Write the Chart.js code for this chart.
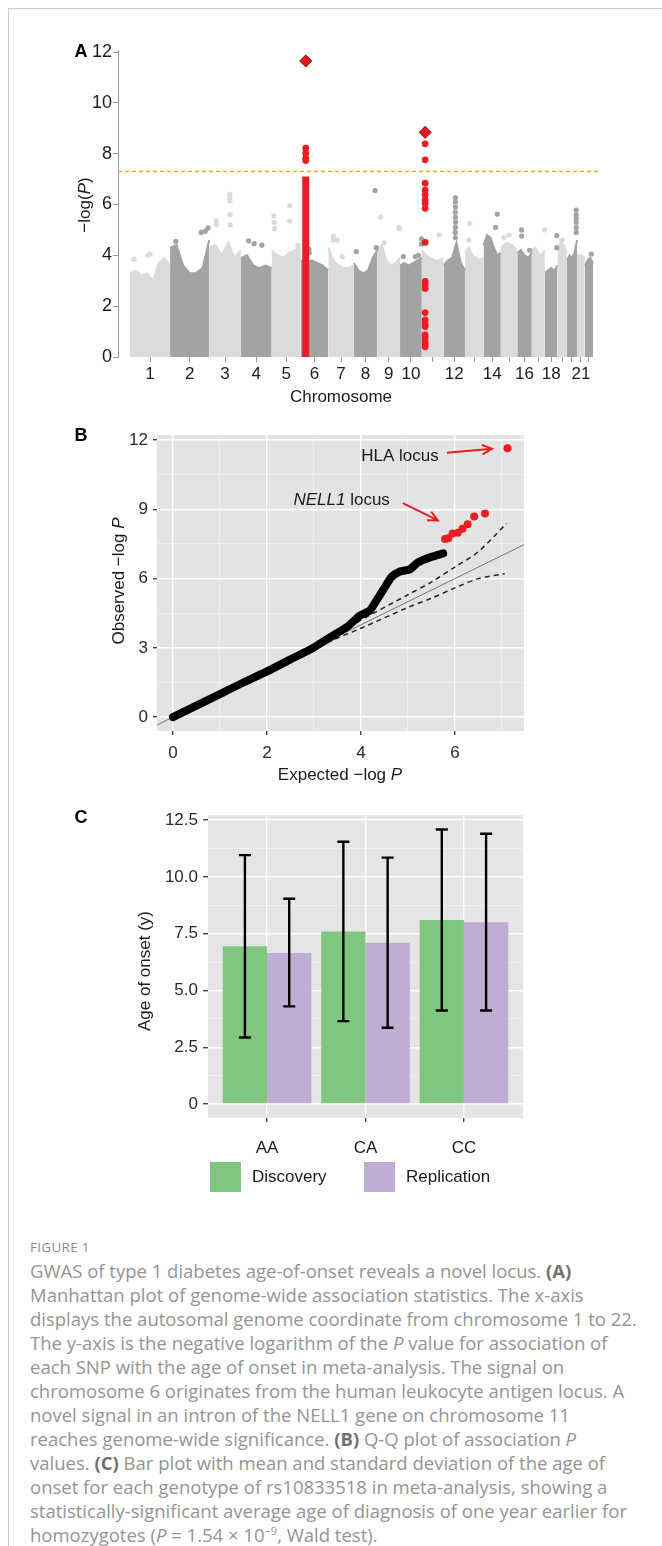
<!DOCTYPE html>
<html>
<head>
<meta charset="utf-8">
<script src="https://cdn.jsdelivr.net/npm/chart.js@4.4.0/dist/chart.umd.min.js"></script>
<style>
body{margin:0;background:#fff;width:662px;height:1546px;position:relative;overflow:hidden;font-family:'Liberation Sans',Arial,sans-serif}
#frame{position:absolute;left:8px;top:8px;width:700px;height:1600px;border-left:1px solid #cdcdcd;border-top:1px solid #cdcdcd}
canvas{position:absolute;left:0}
#cap{position:absolute;left:30px;top:1236px;font-family:'Open Sans',sans-serif;color:#949494}
#cap .fig{font-size:13.5px;letter-spacing:0.3px;height:23px;line-height:23px;color:#8a8a8a}
#cap .txt div{white-space:nowrap;height:24px;line-height:24px;font-size:16.6px}
#cap b{color:#707070}
#cap sup{font-size:11px;line-height:0}
</style>
</head>
<body>
<div id="frame"></div>
<canvas id="cA" width="662" height="420" style="top:0"></canvas>
<canvas id="cB" width="662" height="380" style="top:420px"></canvas>
<canvas id="cC" width="662" height="420" style="top:800px"></canvas>
<div id="cap">
  <div class="fig">FIGURE 1</div>
  <div class="txt">
    <div><span>GWAS of type 1 diabetes age-of-onset reveals a novel locus. <b>(A)</b></span></div>
    <div><span>Manhattan plot of genome-wide association statistics. The x-axis</span></div>
    <div><span id="fitLine">displays the autosomal genome coordinate from chromosome 1 to 22.</span></div>
    <div><span>The y-axis is the negative logarithm of the <i>P</i> value for association of</span></div>
    <div><span>each SNP with the age of onset in meta-analysis. The signal on</span></div>
    <div><span>chromosome 6 originates from the human leukocyte antigen locus. A</span></div>
    <div><span>novel signal in an intron of the NELL1 gene on chromosome 11</span></div>
    <div><span>reaches genome-wide significance. <b>(B)</b> Q-Q plot of association <i>P</i></span></div>
    <div><span>values. <b>(C)</b> Bar plot with mean and standard deviation of the age of</span></div>
    <div><span>onset for each genotype of rs10833518 in meta-analysis, showing a</span></div>
    <div><span>statistically-significant average age of diagnosis of one year earlier for</span></div>
    <div><span>homozygotes (<i>P</i> = 1.54 × 10<sup>−9</sup>, Wald test).</span></div>
  </div>
</div>
<script>
// Panel A - Manhattan plot
const chromLengths = [249.3, 243.2, 198.0, 191.2, 180.9, 171.1, 159.1, 146.4, 141.2, 135.5, 135.0,
  133.9, 115.2, 107.3, 102.5, 90.4, 81.2, 78.1, 59.1, 63.0, 48.1, 51.3];
const chromShown = [1, 2, 3, 4, 5, 6, 7, 8, 9, 10, 12, 14, 16, 18, 21];
// upper edge of the dense SNP cloud along each chromosome
const bulkTop = [
  [3.3, 3.4, 3.2, 3.3, 3.0, 3.7, 3.9, 3.6],
  [4.3, 4.4, 3.6, 3.3, 3.3, 3.5, 4.6],
  [4.3, 4.4, 4.0, 4.5, 3.9, 4.2],
  [3.9, 4.0, 3.6, 3.5, 3.6, 3.5],
  [4.2, 4.0, 3.9, 4.1, 4.2, 4.3],
  [3.8, 3.7, 3.8, 3.7, 3.6, 3.4],
  [4.3, 3.8, 3.6, 3.5, 3.5, 3.6],
  [3.7, 3.4, 3.3, 3.4, 3.9, 4.2],
  [4.2, 4.4, 3.8, 3.6, 3.7, 3.9],
  [3.6, 3.7, 3.6, 3.7, 3.8, 3.9],
  [4.2, 4.0, 3.9, 3.8, 3.8, 3.9],
  [3.6, 3.8, 3.9, 4.5, 3.7, 3.4],
  [4.1, 4.3, 4.0, 3.9, 3.8, 3.9],
  [4.4, 4.8, 4.7, 4.3, 4.0, 4.1],
  [4.3, 4.5, 4.4, 4.2],
  [4.1, 4.2, 4.0, 3.9, 4.1],
  [4.2, 4.3, 4.1, 4.0, 4.2],
  [3.3, 3.4, 3.5, 3.4, 3.6],
  [4.2, 4.5, 4.4, 4.1],
  [3.8, 4.0, 3.9, 4.1, 4.6],
  [4.0, 4.0, 3.9],
  [3.6, 3.8, 3.9, 3.7]
];
// [chromosome, position (Mb), -log10 P]
const outliers = [
  [1, 25, 3.85], [1, 112, 4.0], [1, 125, 4.05],
  [2, 36, 4.55], [2, 194, 4.9], [2, 219, 4.95], [2, 236, 5.08],
  [3, 44, 5.35], [3, 46, 5.2], [3, 129, 6.4], [3, 129, 6.25], [3, 129, 6.15], [3, 130, 5.6], [3, 131, 5.2],
  [4, 48, 4.57], [4, 82, 4.46], [4, 130, 4.4],
  [5, 14, 5.55], [5, 16, 5.3], [5, 18, 5.05], [5, 112, 5.95], [5, 112, 5.35], [5, 163, 4.4],
  [6, 51, 4.25], [6, 53, 4.1],
  [7, 32, 4.75], [7, 33, 4.6], [7, 56, 4.6], [7, 87, 3.95],
  [8, 15, 4.15], [8, 132, 6.55], [8, 139, 4.3],
  [9, 21, 5.5], [9, 42, 4.5], [9, 134, 5.1], [9, 138, 5.05],
  [10, 20, 3.95], [10, 95, 3.95], [10, 115, 4.0], [10, 133, 4.65], [10, 133, 4.45],
  [11, 108, 4.8],
  [12, 74, 6.27], [12, 74, 6.1], [12, 74, 5.9], [12, 73, 5.7], [12, 74, 5.5], [12, 75, 5.3], [12, 74, 5.1], [12, 73, 4.9], [12, 74, 4.7],
  [13, 23, 4.6], [13, 29, 5.25],
  [14, 75, 5.1], [14, 86, 5.62],
  [15, 20, 4.7], [15, 51, 4.8],
  [16, 27, 5.0], [16, 27, 4.76], [16, 77, 4.2],
  [17, 79, 5.0],
  [18, 74, 4.78], [18, 74, 4.3],
  [19, 30, 4.6],
  [20, 58, 5.78], [20, 58, 5.6], [20, 58, 5.45], [20, 58, 5.3], [20, 58, 5.1], [20, 58, 4.9],
  [22, 41, 4.05]
];
const sigThreshold = 7.3;
const hlaPos = 31, hlaColumnTop = 7.1, hlaLead = 11.65;
const hlaDots = [7.73, 7.82, 8.02, 8.22];
const nellPos = 20.7, nellLead = 8.84;
const nellDots = [8.39, 7.76, 6.84, 6.57, 6.38, 6.18, 6.05, 5.85, 4.51, 2.97, 2.85, 2.7,
  1.75, 1.46, 1.3, 1.2, 0.87, 0.75, 0.6, 0.5, 0.4];
const yTicksA = [0, 2, 4, 6, 8, 10, 12];

// Panel B - Q-Q plot
const qqExpected = [0, 0.5, 1, 1.5, 2, 2.5, 3, 3.34, 3.7, 3.98, 4.19, 4.33, 4.47, 4.65, 4.83, 5.04, 5.22, 5.47, 5.75];
const qqObserved = [0, 0.5, 1.0, 1.5, 1.98, 2.5, 3.02, 3.45, 3.9, 4.4, 4.62, 5.05, 5.5, 6.07, 6.31, 6.4, 6.71, 6.92, 7.09];
const qqTopExpected = [5.79, 5.86, 5.95, 6.06, 6.16, 6.27, 6.41, 6.64, 7.12];
const qqTopObserved = [7.71, 7.75, 7.95, 7.99, 8.16, 8.35, 8.69, 8.82, 11.65];
const bandUpperX = [0, 3.3, 4, 5, 5.5, 6, 6.5, 7.1];
const bandUpperY = [0, 3.35, 4.2, 5.3, 5.85, 6.5, 7.17, 8.39];
const bandLowerX = [0, 3.3, 4, 5, 5.5, 6, 6.5, 7.06];
const bandLowerY = [0, 3.25, 3.85, 4.75, 5.15, 5.6, 6.0, 6.21];
const xTicksB = [0, 2, 4, 6];
const yTicksB = [0, 3, 6, 9, 12];

// Panel C - age of onset by genotype
const genotypes = ['AA', 'CA', 'CC'];
const discMean = [6.95, 7.6, 8.11];
const discLow = [2.93, 3.65, 4.12];
const discHigh = [10.96, 11.55, 12.09];
const replMean = [6.65, 7.1, 8.01];
const replLow = [4.3, 3.36, 4.12];
const replHigh = [9.04, 10.85, 11.9];
const yTicksC = [0, 2.5, 5, 7.5, 10, 12.5];

const FONT = "'Liberation Sans', Arial, sans-serif";
const RED = '#ec1c24';

// text helper: runs of [text, style]
function drawRuns(ctx, it) {
  ctx.save();
  ctx.fillStyle = it.color || '#1a1a1a';
  ctx.textBaseline = 'middle';
  let w = 0;
  it.runs.forEach(r => { ctx.font = (r[1] || '') + ' ' + it.size + 'px ' + FONT; w += ctx.measureText(r[0]).width; });
  ctx.translate(it.x, it.y);
  if (it.rot) ctx.rotate(it.rot * Math.PI / 180);
  let x = -w / 2;
  ctx.textAlign = 'left';
  it.runs.forEach(r => { ctx.font = (r[1] || '') + ' ' + it.size + 'px ' + FONT; ctx.fillText(r[0], x, 0); x += ctx.measureText(r[0]).width; });
  ctx.restore();
}
function textPlugin(items) {
  return { id: 'panelText', afterDraw(chart) { items.forEach(it => drawRuns(chart.ctx, it)); } };
}
const panelBg = color => ({
  id: 'panelBg',
  beforeDraw(chart) {
    const a = chart.chartArea, ctx = chart.ctx;
    ctx.save(); ctx.fillStyle = color; ctx.fillRect(a.left, a.top, a.right - a.left, a.bottom - a.top); ctx.restore();
  }
});
function setTicks(values) { return scale => { scale.ticks = values.map(v => ({ value: v })); }; }
function withMinor(major) {
  const out = major.slice();
  for (let i = 0; i < major.length - 1; i++) out.push((major[i] + major[i + 1]) / 2);
  return out.sort((a, b) => a - b);
}
function ggGrid(major) {
  const isMajor = v => major.indexOf(v) >= 0;
  return {
    color: c => isMajor(c.tick.value) ? '#ffffff' : 'rgba(255,255,255,0.6)',
    lineWidth: c => isMajor(c.tick.value) ? 1.4 : 0.7,
    tickColor: c => isMajor(c.tick.value) ? '#444' : 'rgba(0,0,0,0)',
    tickLength: 4
  };
}

// ---------- Panel A ----------
const starts = []; let acc = 0;
chromLengths.forEach(l => { starts.push(acc); acc += l; });
const genomeLen = acc;
const centers = chromLengths.map((l, i) => starts[i] + l / 2);
const mbPx = 463 / genomeLen;
const xMinA = -12 / mbPx, xMaxA = genomeLen + 7 / mbPx;
const LIGHT = '#dbdbdb', DARK = '#a3a3a3';

const dsA = [];
chromLengths.forEach((len, i) => {
  const h = bulkTop[i], col = i % 2 ? DARK : LIGHT;
  dsA.push({
    type: 'line', showLine: true, fill: 'origin', order: 10,
    data: h.map((v, k) => ({ x: starts[i] + len * k / (h.length - 1), y: v })),
    backgroundColor: col, borderColor: col, borderWidth: 2, pointRadius: 0, tension: 0
  });
});
[0, 1].forEach(par => {
  dsA.push({
    type: 'scatter', order: 8,
    data: outliers.filter(o => (o[0] - 1) % 2 === par).map(o => ({ x: starts[o[0] - 1] + o[1], y: o[2] })),
    backgroundColor: par ? DARK : LIGHT, borderWidth: 0, pointRadius: 2.6
  });
});
const hlaX = starts[5] + hlaPos, nellX = starts[10] + nellPos;
dsA.push({ type: 'line', showLine: true, order: 5, data: [{ x: hlaX, y: 0 }, { x: hlaX, y: hlaColumnTop }],
  borderColor: RED, borderWidth: 7, pointRadius: 0 });
dsA.push({ type: 'scatter', order: 4,
  data: hlaDots.map(v => ({ x: hlaX, y: v })).concat(nellDots.map(v => ({ x: nellX, y: v }))),
  backgroundColor: RED, borderWidth: 0, pointRadius: 3.4 });
dsA.push({ type: 'scatter', order: 1,
  data: [{ x: hlaX, y: hlaLead }, { x: nellX, y: nellLead }],
  pointStyle: 'rectRot', pointRadius: 6, backgroundColor: '#e31a1c', borderColor: '#7a0a0a', borderWidth: 1 });
dsA.push({ type: 'line', showLine: true, order: 2, data: [{ x: xMinA, y: sigThreshold }, { x: xMaxA, y: sigThreshold }],
  borderColor: '#f5a623', backgroundColor: '#f5a623', borderDash: [4, 3], borderWidth: 1.5, pointRadius: 0, fill: false });

new Chart(document.getElementById('cA'), {
  type: 'scatter',
  data: { datasets: dsA },
  options: {
    responsive: false, animation: false, events: [],
    layout: { padding: { left: 58, right: 62, top: 50, bottom: 0 } },
    plugins: { legend: { display: false }, tooltip: { enabled: false } },
    scales: {
      x: {
        type: 'linear', min: xMinA, max: xMaxA,
        afterBuildTicks: setTicks(centers),
        afterFit: s => { s.height = 63; },
        border: { display: false },
        grid: { drawOnChartArea: false, drawTicks: true, tickLength: 5, color: '#999' },
        ticks: { autoSkip: false, maxRotation: 0, padding: 2, color: '#1a1a1a', font: { family: FONT, size: 17 },
          callback: (v, i) => chromShown.indexOf(i + 1) >= 0 ? String(i + 1) : '' }
      },
      y: {
        min: 0, max: 12.08,
        afterBuildTicks: setTicks(yTicksA),
        afterFit: s => { s.width = 60; },
        border: { display: true, color: '#999', width: 1 },
        grid: { drawOnChartArea: false, drawTicks: true, tickLength: 5, color: '#999' },
        ticks: { padding: 1, color: '#1a1a1a', font: { family: FONT, size: 18 } }
      }
    }
  },
  plugins: [textPlugin([
    { x: 81, y: 52, size: 18, runs: [['A', 'bold']], color: '#000' },
    { x: 341, y: 397, size: 17, runs: [['Chromosome', '']] },
    { x: 85, y: 205, rot: -90, size: 17, runs: [['\u2212log(', ''], ['P', 'italic'], [')', '']] }
  ])]
});

// ---------- Panel B ----------
const qqNotes = {
  id: 'qqNotes',
  afterDatasetsDraw(chart) {
    const ctx = chart.ctx, x = chart.scales.x, y = chart.scales.y;
    const arrow = (x0, y0, x1, y1) => {
      const a = Math.atan2(y1 - y0, x1 - x0);
      ctx.beginPath();
      ctx.moveTo(x0, y0); ctx.lineTo(x1, y1);
      ctx.moveTo(x1 - 11 * Math.cos(a - 0.45), y1 - 11 * Math.sin(a - 0.45)); ctx.lineTo(x1, y1);
      ctx.lineTo(x1 - 11 * Math.cos(a + 0.45), y1 - 11 * Math.sin(a + 0.45));
      ctx.stroke();
    };
    ctx.save();
    ctx.strokeStyle = RED; ctx.lineWidth = 2;
    arrow(x.getPixelForValue(5.83), y.getPixelForValue(11.45), x.getPixelForValue(6.79), y.getPixelForValue(11.62));
    arrow(x.getPixelForValue(4.89), y.getPixelForValue(9.27), x.getPixelForValue(5.64), y.getPixelForValue(8.52));
    ctx.restore();
    drawRuns(ctx, { x: (x.getPixelForValue(3.98) + x.getPixelForValue(5.68)) / 2, y: y.getPixelForValue(11.28), size: 17,
      runs: [['HLA locus', '']] });
    drawRuns(ctx, { x: (x.getPixelForValue(2.53) + x.getPixelForValue(4.65)) / 2, y: y.getPixelForValue(9.4), size: 17,
      runs: [['NELL1', 'italic'], [' locus', '']] });
  }
};

new Chart(document.getElementById('cB'), {
  type: 'scatter',
  data: {
    datasets: [
      { type: 'scatter', order: 1, data: qqTopExpected.map((v, i) => ({ x: v, y: qqTopObserved[i] })),
        backgroundColor: RED, borderWidth: 0, pointRadius: 4 },
      { type: 'line', showLine: true, order: 2, data: qqExpected.map((v, i) => ({ x: v, y: qqObserved[i] })),
        borderColor: '#000', borderWidth: 8, borderCapStyle: 'round', borderJoinStyle: 'round', pointRadius: 0, tension: 0.2 },
      { type: 'line', showLine: true, order: 3, data: [{ x: -1, y: -1 }, { x: 8, y: 8 }],
        borderColor: '#777', borderWidth: 1, pointRadius: 0 },
      { type: 'line', showLine: true, order: 4, data: bandUpperX.map((v, i) => ({ x: v, y: bandUpperY[i] })),
        borderColor: '#222', borderWidth: 1.5, borderDash: [5, 4], pointRadius: 0, tension: 0.3 },
      { type: 'line', showLine: true, order: 4, data: bandLowerX.map((v, i) => ({ x: v, y: bandLowerY[i] })),
        borderColor: '#222', borderWidth: 1.5, borderDash: [5, 4], pointRadius: 0, tension: 0.3 }
    ]
  },
  options: {
    responsive: false, animation: false, events: [],
    layout: { padding: { left: 95, right: 138, top: 11, bottom: 0 } },
    plugins: { legend: { display: false }, tooltip: { enabled: false } },
    scales: {
      x: {
        type: 'linear', min: -0.34, max: 7.47,
        afterBuildTicks: setTicks(withMinor(xTicksB.concat([8])).filter(v => v < 7.47)),
        afterFit: s => { s.height = 69; },
        border: { display: false },
        grid: ggGrid(xTicksB),
        ticks: { autoSkip: false, maxRotation: 0, padding: 8, color: '#2a2a2a', font: { family: FONT, size: 17 },
          callback: v => xTicksB.indexOf(v) >= 0 ? String(v) : '' }
      },
      y: {
        min: -0.6, max: 12.21,
        afterBuildTicks: setTicks(withMinor(yTicksB)),
        afterFit: s => { s.width = 62; },
        border: { display: false },
        grid: ggGrid(yTicksB),
        ticks: { autoSkip: false, padding: 5, color: '#2a2a2a', font: { family: FONT, size: 17 },
          callback: v => yTicksB.indexOf(v) >= 0 ? String(v) : '' }
      }
    }
  },
  plugins: [panelBg('#e3e3e3'), qqNotes, textPlugin([
    { x: 81, y: 16, size: 18, runs: [['B', 'bold']], color: '#000' },
    { x: 340, y: 355, size: 17, runs: [['Expected \u2212log ', ''], ['P', 'italic']] },
    { x: 119, y: 161, rot: -90, size: 17, runs: [['Observed \u2212log ', ''], ['P', 'italic']] }
  ])]
});

// ---------- Panel C ----------
const errorBars = {
  id: 'errorBars',
  afterDatasetsDraw(chart) {
    const ctx = chart.ctx, y = chart.scales.y;
    chart.data.datasets.forEach((ds, di) => {
      chart.getDatasetMeta(di).data.forEach((bar, i) => {
        const t = y.getPixelForValue(ds.errHigh[i]), b = y.getPixelForValue(ds.errLow[i]);
        ctx.save();
        ctx.strokeStyle = '#000'; ctx.lineWidth = 2.4;
        ctx.beginPath();
        ctx.moveTo(bar.x, t); ctx.lineTo(bar.x, b);
        ctx.moveTo(bar.x - 6, t); ctx.lineTo(bar.x + 6, t);
        ctx.moveTo(bar.x - 6, b); ctx.lineTo(bar.x + 6, b);
        ctx.stroke();
        ctx.restore();
      });
    });
  }
};
const barLegend = {
  id: 'barLegend',
  afterDraw(chart) {
    const ctx = chart.ctx;
    const pos = [210, 364];
    chart.data.datasets.forEach((ds, i) => {
      ctx.save();
      ctx.fillStyle = ds.backgroundColor;
      ctx.fillRect(pos[i], 362, 31, 30);
      ctx.restore();
      ctx.save();
      ctx.fillStyle = '#1a1a1a'; ctx.font = '17px ' + FONT; ctx.textBaseline = 'middle';
      ctx.fillText(ds.label, pos[i] + 42, 377);
      ctx.restore();
    });
  }
};

new Chart(document.getElementById('cC'), {
  type: 'bar',
  data: {
    datasets: [
      { label: 'Discovery', data: discMean.map((v, i) => ({ x: i + 1, y: v })), errLow: discLow, errHigh: discHigh,
        backgroundColor: '#80c67f', categoryPercentage: 0.9, barPercentage: 1.0 },
      { label: 'Replication', data: replMean.map((v, i) => ({ x: i + 1, y: v })), errLow: replLow, errHigh: replHigh,
        backgroundColor: '#bfadd3', categoryPercentage: 0.9, barPercentage: 1.0 }
    ]
  },
  options: {
    responsive: false, animation: false, events: [],
    layout: { padding: { left: 140, right: 139, top: 14, bottom: 0 } },
    plugins: { legend: { display: false }, tooltip: { enabled: false } },
    scales: {
      x: {
        type: 'linear', min: 0.4, max: 3.6, offset: false,
        afterBuildTicks: setTicks([1, 2, 3]),
        afterFit: s => { s.height = 102; },
        border: { display: false },
        grid: { offset: false, color: '#fff', lineWidth: 1.4, tickColor: '#444', tickLength: 4 },
        ticks: { autoSkip: false, maxRotation: 0, padding: 16, color: '#1a1a1a', font: { family: FONT, size: 17 },
          callback: v => genotypes[v - 1] }
      },
      y: {
        min: -0.614, max: 12.72,
        afterBuildTicks: setTicks(withMinor(yTicksC)),
        afterFit: s => { s.width = 68; },
        border: { display: false },
        grid: Object.assign(ggGrid(yTicksC), { tickLength: 5 }),
        ticks: { autoSkip: false, padding: 5, color: '#2a2a2a', font: { family: FONT, size: 17 },
          callback: v => yTicksC.indexOf(v) >= 0 ? (v === 0 ? '0' : v.toFixed(1)) : '' }
      }
    }
  },
  plugins: [panelBg('#e5e5e5'), errorBars, barLegend, textPlugin([
    { x: 81, y: 18, size: 18, runs: [['C', 'bold']], color: '#000' },
    { x: 145, y: 171, rot: -90, size: 17, runs: [['Age of onset (y)', '']] }
  ])]
});

// fit caption width to the reference line length
const fit = document.getElementById('fitLine');
const w = fit.getBoundingClientRect().width;
const fs = 16.6 * 607 / w;
document.querySelectorAll('#cap .txt div').forEach(d => { d.style.fontSize = fs.toFixed(2) + 'px'; });
</script>
</body>
</html>
